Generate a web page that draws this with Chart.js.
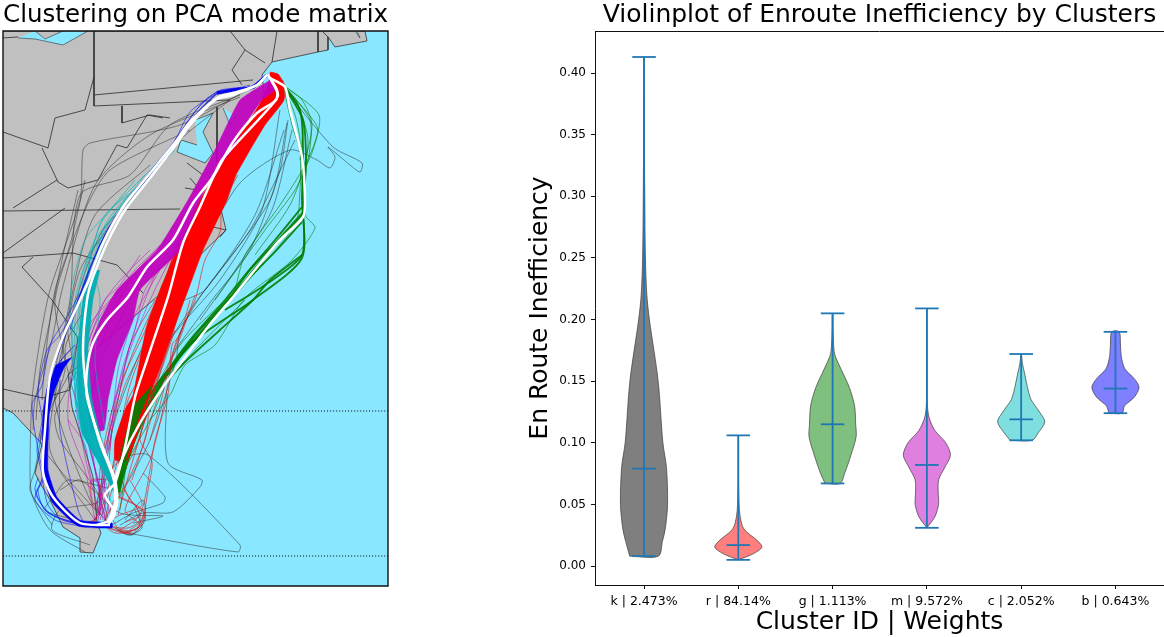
<!DOCTYPE html>
<html>
<head>
<meta charset="utf-8">
<script src="https://cdn.jsdelivr.net/npm/chart.js@4/dist/chart.umd.min.js"></script>
<style>
  body { margin: 0; background: #fff; }
  canvas { position: absolute; top: 0; }
  #mapChart { left: 0; }
  #violinChart { left: 525px; }
</style>
</head>
<body>
<canvas id="mapChart" width="400" height="590"></canvas>
<canvas id="violinChart" width="639" height="637"></canvas>
<script>
// violin panel data
const clusterLabels = ["k | 2.473%", "r | 84.14%", "g | 1.113%", "m | 9.572%", "c | 2.052%", "b | 0.643%"];
const clusterFill = ["rgba(0,0,0,0.5)", "rgba(255,0,0,0.5)", "rgba(0,128,0,0.5)", "rgba(191,0,191,0.5)", "rgba(0,191,191,0.5)", "rgba(0,0,255,0.5)"];
const yTickValues = [0, 0.05, 0.1, 0.15, 0.2, 0.25, 0.3, 0.35, 0.4];
const xTickValues = [1, 2, 3, 4, 5, 6];
const minValues = [0.008, 0.005, 0.067, 0.031, 0.102, 0.124];
const maxValues = [0.413, 0.106, 0.205, 0.209, 0.172, 0.190];
const meanValues = [0.079, 0.017, 0.115, 0.082, 0.119, 0.144];
// [value, half width] for each violin
const violinK = [[0.008,0.152],[0.02,0.195],[0.03,0.225],[0.05,0.25],[0.08,0.238],[0.1,0.2],[0.15,0.15],[0.2,0.057],[0.22,0.03],[0.25,0.015],[0.3,0.008],[0.35,0.004],[0.413,0]];
const violinR = [[0.005,0],[0.01,0.16],[0.0152,0.25],[0.02,0.21],[0.03,0.06],[0.04,0.02],[0.05,0.008],[0.07,0.002],[0.106,0]];
const violinG = [[0.067,0.08],[0.075,0.127],[0.09,0.195],[0.105,0.25],[0.115,0.245],[0.13,0.233],[0.145,0.177],[0.16,0.088],[0.17,0.03],[0.175,0.015],[0.19,0.006],[0.205,0.003]];
const violinM = [[0.031,0],[0.04,0.085],[0.05,0.124],[0.06,0.12],[0.07,0.125],[0.08,0.19],[0.09,0.25],[0.1,0.2],[0.11,0.085],[0.12,0.025],[0.13,0.006],[0.15,0.002],[0.209,0]];
const violinC = [[0.102,0.117],[0.108,0.18],[0.117,0.25],[0.125,0.195],[0.135,0.105],[0.145,0.067],[0.155,0.04],[0.165,0.012],[0.172,0.003]];
const violinB = [[0.124,0.07],[0.13,0.097],[0.137,0.2],[0.145,0.25],[0.152,0.2],[0.16,0.1],[0.17,0.062],[0.18,0.053],[0.19,0.04]];
const violins = [violinK, violinR, violinG, violinM, violinC, violinB];

// map panel data, in map units (x right, y down)
const landOutline = [[3,31],[365,31],[367,41],[335,47],[328,37],[328,50],[318,52],[272,62],[262,75],[265,100],[255,128],[240,150],[228,172],[214,180],[226,230],[190,265],[165,290],[130,320],[100,345],[80,365],[68,375],[72,407],[80,433],[93,477],[97,523],[101,533],[93,553],[80,552],[80,538],[63,527],[50,500],[40,483],[35,473],[42,444],[13,413],[3,408]];
const lakeOutline = [[18,38],[35,39],[63,45],[88,31],[63,31],[45,39],[35,31]];
const bayOutline = [[195,120],[213,113],[203,132],[213,153],[205,163],[177,152],[181,140],[197,145]];
const bay2Outline = [[223,108],[230,125],[236,116]];
const bay3Outline = [[355,31],[360,38],[357,31]];
const borders = [
  [[3,132],[48,148],[55,118],[85,110],[94,77]],
  [[42,148],[58,182],[68,188],[98,180],[117,145],[127,148],[147,115],[163,118]],
  [[13,208],[57,180]],
  [[3,211],[180,209]],
  [[3,253],[65,208]],
  [[3,258],[73,253],[117,265],[143,293]],
  [[22,267],[33,257]],
  [[22,267],[52,300],[78,338],[70,390]],
  [[94,31],[94,106],[230,100]],
  [[94,95],[253,80]],
  [[122,106],[122,123],[150,115],[170,118]],
  [[230,31],[245,50],[232,70],[242,85]],
  [[245,50],[265,63]],
  [[277,31],[272,62]],
  [[318,31],[318,52]],
  [[328,37],[322,31]],
  [[3,389],[43,398],[70,390]],
  [[187,163],[203,175]],
  [[190,178],[200,190]],
  [[185,188],[197,190]],
  [[217,107],[217,163]],
  [[3,38],[18,37]],
  [[213,227],[226,230],[220,237]]
];
const parallelRows = [411, 556];

const greyPaths = [
  [[253,87],[180,125],[90,143],[83,150],[80,200],[50,290],[40,340],[32,400],[30,470],[32,495],[50,530],[85,552]],
  [[240,95],[170,125],[130,175],[80,195],[70,300],[48,400],[35,470],[30,490],[52,525]],
  [[283,87],[333,147],[362,163],[360,172],[350,165],[328,147],[335,157],[330,168],[317,160],[290,150],[240,183],[200,250],[150,330],[115,420],[100,500]],
  [[167,393],[168,463],[202,480],[200,487],[173,512],[143,513],[120,525]],
  [[127,533],[238,552],[240,545],[148,455],[120,460],[100,490],[96,520]],
  [[143,473],[165,497],[163,503],[133,513],[112,525]],
  [[133,523],[163,516],[120,513],[80,480],[60,490]],
  [[287,123],[270,200],[200,297],[180,333],[176,360],[150,440],[118,500]],
  [[280,110],[262,210],[220,280],[170,340],[140,410]],
  [[295,140],[250,230],[190,310],[150,370]],
  [[288,120],[280,170],[250,250],[212,300],[175,350]],
  [[284,130],[255,215],[205,290],[185,300]],
  [[292,130],[272,210],[232,275],[200,320]],
  [[240,97],[150,135],[95,185],[62,290],[52,340],[35,400],[33,430]],
  [[230,100],[180,140],[130,200],[100,235],[70,320],[55,400],[90,500],[110,525]],
  [[190,130],[110,170],[85,210],[55,300],[65,370],[40,440],[60,470],[100,515]],
  [[150,165],[95,215],[75,280],[60,370],[50,450],[95,520]],
  [[85,180],[70,245],[55,290],[45,360],[42,400]],
  [[78,190],[62,260],[50,320],[40,370],[36,420]],
  [[110,225],[80,270],[68,330],[72,365],[55,400]],
  [[78,370],[55,415],[60,440],[100,500],[60,510],[52,530],[90,545]],
  [[115,490],[68,480],[55,495],[45,510],[75,520]],
  [[135,510],[142,528],[128,535],[115,528]],
  [[118,530],[132,535],[145,520],[143,500],[125,520]],
  [[90,300],[65,350],[85,430],[95,470],[108,518]],
  [[100,340],[78,365],[90,420],[115,490]]
];
const greenPaths = [
  [[283,85],[319,115],[313,150],[305,170],[302,200]],
  [[283,85],[310,120],[308,160],[295,190],[265,230],[215,300]],
  [[283,85],[305,110],[318,130],[305,165],[280,205],[245,255],[235,290]],
  [[283,85],[295,115],[300,140],[300,190],[295,225],[240,290]],
  [[283,85],[292,125],[303,165],[290,205],[255,255]],
  [[283,85],[298,105],[308,140],[302,185]],
  [[283,85],[302,100],[312,125],[303,170]],
  [[283,85],[296,100],[303,125],[300,160]],
  [[302,175],[305,215],[315,228],[290,262],[245,298],[215,345],[185,365],[170,395],[150,420]],
  [[230,296],[175,365],[150,420],[122,470]],
  [[245,300],[200,345],[165,385],[135,440],[120,490]],
  [[225,300],[180,345],[150,400],[130,445],[118,490]],
  [[180,365],[140,400],[132,430],[125,470],[118,500]],
  [[165,385],[135,420],[125,460],[116,500]],
  [[160,385],[138,415],[128,455],[120,510]],
  [[150,400],[132,425],[122,470],[115,510]]
];
// the tight bundles that read as one heavy stroke
const greenHeavy = [
  [[283,85],[300,110],[303,150],[302,200],[302,258],[253,300],[190,345],[140,420],[118,480]],
  [[283,85],[303,120],[306,165],[303,205],[302,255],[265,285],[225,310]],
  [[302,207],[275,240],[245,275],[225,300],[190,340],[165,375],[140,420],[122,470]],
  [[303,212],[278,240],[250,270],[230,297],[200,330],[172,365],[150,395],[128,445],[118,490]],
  [[303,214],[280,240],[255,268],[235,293],[205,328],[180,355],[155,395],[133,445],[120,485]],
  [[302,222],[272,255],[245,282],[228,300],[195,340],[160,380],[135,425],[122,460],[114,490]],
  [[302,255],[270,280],[253,300],[220,330],[185,362],[160,390],[140,425],[125,470]]
];
const greenWedge = [[152,385],[138,420],[126,460],[120,492],[116,492],[122,450],[134,405]];
const redBand = [[270,72],[278,74],[283,82],[284,100],[265,125],[250,150],[236,175],[227,200],[215,225],[203,250],[190,285],[177,320],[163,360],[150,395],[135,440],[127,460],[115,460],[115,440],[125,410],[133,395],[140,360],[147,325],[160,290],[177,250],[200,200],[230,150],[247,125],[262,100],[268,85]];
const redPaths = [
  [[240,135],[205,195],[185,225],[172,260],[150,320],[120,385],[105,440],[100,500],[95,523]],
  [[225,165],[190,215],[178,240],[165,280],[130,360],[112,420],[104,470],[95,510]],
  [[238,175],[222,205],[220,232],[205,260],[195,300],[175,345],[165,400],[150,460],[125,510],[140,525],[125,533],[108,528]],
  [[190,300],[180,335],[172,345],[168,395],[155,440],[150,470],[140,515],[120,530]],
  [[155,300],[130,345],[118,400],[100,470],[100,515]],
  [[180,310],[145,420],[140,440],[152,462],[148,490],[142,520],[130,530]],
  [[110,480],[92,480],[92,500],[100,515],[88,523]],
  [[130,480],[142,505],[120,515],[105,525],[115,533],[132,532]],
  [[160,330],[135,400],[118,450],[125,490],[140,515],[125,522]],
  [[260,95],[282,80],[285,95],[270,115]],
  [[175,330],[158,380],[142,430],[130,470],[118,515]],
  [[170,340],[150,400],[135,450],[112,490],[105,522]],
  [[145,370],[128,400],[120,450],[108,495],[100,520]],
  [[150,400],[145,440],[128,480],[110,510],[102,525]],
  [[125,430],[112,470],[105,500],[92,525]],
  [[118,497],[143,510],[142,525],[125,532],[110,528]],
  [[115,495],[135,505],[140,520],[128,528],[108,526]],
  [[125,490],[130,500],[145,515],[132,534],[118,530]],
  [[120,490],[110,510],[118,528],[135,530],[145,512]],
  [[105,480],[102,505],[110,525],[130,533]],
  [[195,295],[183,330],[170,365],[160,405],[150,440]],
  [[188,315],[172,355],[157,400],[143,445],[132,480]],
  [[150,330],[130,385],[122,420],[112,470]],
  [[142,350],[125,385],[112,430],[108,480]]
];
const magentaBand = [[270,80],[275,90],[262,100],[248,120],[232,150],[212,175],[200,200],[180,250],[140,290],[133,320],[117,360],[108,400],[104,430],[92,430],[86,390],[88,360],[92,340],[100,320],[117,290],[157,250],[188,200],[215,150],[227,125],[240,100],[262,85]];
const magentaPaths = [
  [[140,255],[120,285],[105,300],[90,330],[75,390],[78,420],[88,470],[100,515]],
  [[170,240],[145,275],[125,310],[105,350],[90,400],[95,470],[105,520]],
  [[130,280],[110,300],[85,330],[75,350],[68,420],[85,470],[95,520]],
  [[180,240],[150,300],[130,350],[112,410],[105,470],[105,520]],
  [[68,420],[85,445],[92,480],[102,480],[100,515]],
  [[160,270],[135,315],[118,370],[110,450]],
  [[167,240],[135,270],[113,297],[95,325],[80,370],[80,420]],
  [[150,250],[125,275],[105,300],[88,345],[78,395]],
  [[160,245],[130,280],[112,315],[100,350],[88,420]],
  [[175,250],[145,290],[135,330],[122,370],[112,420],[100,470]],
  [[190,225],[160,265],[145,300],[130,345],[118,400],[108,450]],
  [[80,390],[85,430],[98,480],[103,520]],
  [[86,420],[92,455],[100,495],[98,522]],
  [[100,430],[102,470],[108,505],[110,522]],
  [[90,482],[98,482],[100,510],[92,523]]
];
const tealBand = [[100,270],[93,300],[88,350],[92,400],[100,433],[108,460],[117,500],[112,488],[97,460],[82,433],[78,400],[77,360],[83,300],[95,270]];
const tealPaths = [
  [[190,125],[155,165],[135,185],[115,205],[100,225],[90,260],[82,310],[76,370],[82,430],[110,480]],
  [[175,150],[140,185],[105,215],[92,250],[85,300],[80,380],[100,450]],
  [[160,165],[125,200],[100,240],[80,300],[75,390],[85,450]],
  [[135,180],[110,210],[85,240],[70,300],[78,400]],
  [[130,200],[100,255],[92,285],[90,330]],
  [[145,175],[118,210],[100,235],[85,270],[78,330]],
  [[122,205],[95,240],[82,275],[75,320],[74,380]],
  [[112,225],[88,258],[75,300],[72,350],[78,420]],
  [[128,195],[105,225],[95,270],[100,300],[95,360],[105,430]],
  [[105,250],[85,285],[90,320],[85,360]],
  [[80,400],[90,440],[105,480],[113,510]]
];
const blueBand = [[72,357],[64,368],[54,392],[49,415],[48,470],[57,497],[80,520],[112,523],[112,528],[78,526],[52,502],[43,472],[43,415],[47,390],[56,365]];
const bluePaths = [
  [[265,78],[250,87],[235,88],[218,91],[198,108],[175,140]],
  [[255,88],[240,91],[222,90],[205,100],[185,125]],
  [[250,85],[215,95],[190,112],[175,140],[145,178],[110,225],[85,280],[70,330]],
  [[90,275],[65,320],[50,345],[42,385],[32,405],[40,460],[45,478],[38,490],[45,510],[70,522],[85,525]],
  [[80,300],[60,335],[47,350],[38,390],[42,420],[37,450],[42,478],[35,500],[55,520],[80,526]],
  [[60,380],[60,430],[78,510],[85,525]],
  [[42,478],[48,505],[62,520],[95,526]],
  [[75,345],[58,365],[50,400],[48,440]],
  [[70,350],[52,372],[44,405],[42,440]],
  [[42,480],[36,495],[52,515],[82,524]],
  [[38,478],[35,490],[48,513],[78,524]]
];
const blueHeavy = [
  [[267,75],[253,87],[233,90],[217,93]]
];
const blueMedium = [
  [[217,93],[200,110],[177,140],[150,175],[123,207],[100,245],[82,290],[65,335],[50,377],[45,430]]
];
const centroidPaths = [
  [[267,75],[257,85],[233,93],[217,98],[190,122],[177,140],[147,177],[123,207],[103,243],[90,277],[80,300],[63,337],[50,377],[45,430],[43,472],[53,497],[80,523],[110,525]],
  [[267,75],[257,85],[233,95],[215,100],[190,125],[178,142],[150,178],[125,210],[107,243],[93,277],[87,300],[83,350],[87,393],[100,443],[113,477],[117,503],[110,520],[97,525]],
  [[268,75],[277,90],[276,100],[257,113],[233,142],[213,177],[193,203],[173,240],[147,267],[128,297],[107,320],[93,343],[87,370],[87,397],[100,440],[115,480],[117,503],[110,520]],
  [[270,78],[278,95],[270,107],[233,147],[220,163],[200,207],[183,243],[168,297],[147,360],[135,397],[125,447],[115,483],[105,495],[115,513],[108,525]],
  [[270,78],[285,87],[290,110],[302,157],[305,200],[303,217],[277,243],[233,297],[211,323],[183,360],[163,387],[140,423],[123,457],[115,482],[115,503],[108,522]]
];

const toPoints = list => list.map(p => ({ x: p[0], y: p[1] }));

function mapLine(list, color, width) {
  return { data: toPoints(list), showLine: true, borderColor: color, borderWidth: width, pointRadius: 0, fill: false, tension: 0.25 };
}
function mapArea(list, fillColor, edgeColor, width) {
  return { data: toPoints(list), showLine: true, borderColor: edgeColor, borderWidth: width, backgroundColor: fillColor, pointRadius: 0, fill: "shape", tension: 0.15 };
}

const mapSets = [];
const flat = d => ({ ...d, tension: 0 });
mapSets.push(flat(mapArea(landOutline, "#c0c0c0", "#333", 0.8)));
mapSets.push(flat(mapArea(lakeOutline, "#89e8ff", "#333", 0.6)));
mapSets.push(flat(mapArea(bayOutline, "#89e8ff", "#333", 0.7)));
mapSets.push(flat(mapArea(bay2Outline, "#89e8ff", "#333", 0.6)));
mapSets.push(flat(mapArea(bay3Outline, "#89e8ff", "#333", 0.6)));
borders.forEach(b => mapSets.push(flat(mapLine(b, "#2a2a2a", 0.8))));
parallelRows.forEach(row => mapSets.push({ ...mapLine([[3, row], [388, row]], "#000", 1), borderDash: [1, 2] }));
greyPaths.forEach(p => mapSets.push(mapLine(p, "rgba(40,40,40,0.5)", 1)));
greenPaths.forEach(p => mapSets.push(mapLine(p, "rgba(0,125,0,0.6)", 1)));
greenHeavy.forEach(p => mapSets.push(mapLine(p, "rgba(0,125,0,0.9)", 1.8)));
mapSets.push(mapArea(redBand, "#ff0000", "rgba(255,0,0,0.6)", 1));
redPaths.forEach(p => mapSets.push(mapLine(p, "rgba(215,20,20,0.6)", 1)));
mapSets.push(mapArea(greenWedge, "rgba(0,125,0,0.9)", "rgba(0,125,0,0.6)", 1));
mapSets.push(mapArea(magentaBand, "rgba(191,0,191,0.92)", "rgba(191,0,191,0.5)", 0.8));
magentaPaths.forEach(p => mapSets.push(mapLine(p, "rgba(191,0,191,0.5)", 1)));
tealPaths.forEach(p => mapSets.push(mapLine(p, "rgba(0,180,185,0.6)", 1)));
mapSets.push(mapArea(tealBand, "rgba(0,175,180,0.95)", "rgba(0,180,185,0.5)", 0.8));
bluePaths.forEach(p => mapSets.push(mapLine(p, "rgba(20,20,235,0.6)", 1)));
blueMedium.forEach(p => mapSets.push(mapLine(p, "rgba(10,30,220,0.8)", 1.6)));
blueHeavy.forEach(p => mapSets.push(mapLine(p, "rgba(0,0,238,0.95)", 3.5)));
mapSets.push(mapArea(blueBand, "#0000ee", "rgba(0,0,238,0.6)", 0.8));
centroidPaths.forEach(p => mapSets.push(mapLine(p, "#fff", 2.5)));
// chart.js paints low order on top, so count down
mapSets.forEach((d, i) => { d.order = mapSets.length - i; });

const frame = {
  id: "frame",
  afterDraw(chart) {
    const { ctx, chartArea: a } = chart;
    ctx.save();
    ctx.strokeStyle = "#111";
    ctx.lineWidth = chart.canvas.id === "mapChart" ? 1.4 : 1;
    ctx.beginPath();
    if (chart.canvas.id === "mapChart") {
      ctx.rect(a.left, a.top, a.right - a.left, a.bottom - a.top);
    } else {
      ctx.moveTo(a.left, a.top + 0.5);
      ctx.lineTo(a.right, a.top + 0.5);
    }
    ctx.stroke();
    ctx.restore();
  }
};
const seaBackground = {
  id: "seaBackground",
  beforeDraw(chart) {
    const { ctx, chartArea: a } = chart;
    ctx.fillStyle = "#89e8ff";
    ctx.fillRect(a.left, a.top, a.right - a.left, a.bottom - a.top);
  }
};

new Chart(document.getElementById("mapChart"), {
  type: "scatter",
  data: { datasets: mapSets },
  plugins: [seaBackground, frame],
  options: {
    responsive: false,
    animation: false,
    layout: { padding: { left: 3, right: 12, bottom: 4 } },
    scales: {
      x: { display: false, min: 3, max: 388 },
      y: { display: false, min: 31, max: 586, reverse: true }
    },
    plugins: {
      legend: { display: false },
      tooltip: { enabled: false },
      title: {
        display: true,
        fullSize: false,
        text: "Clustering on PCA mode matrix",
        color: "#000",
        font: { family: "DejaVu Sans", size: 25.4, weight: "normal" },
        padding: { top: 0, bottom: 0.5 }
      }
    }
  }
});

// violin bodies and the min / max / mean bars
const violinSets = [];
violins.forEach((profile, i) => {
  const pos = xTickValues[i];
  const left = profile.map(p => ({ x: pos - p[1], y: p[0] }));
  const right = profile.slice().reverse().map(p => ({ x: pos + p[1], y: p[0] }));
  violinSets.push({
    data: left.concat(right, [left[0]]),
    showLine: true,
    fill: "shape",
    backgroundColor: clusterFill[i],
    borderColor: "rgba(50,50,50,0.65)",
    borderWidth: 1,
    pointRadius: 0,
    tension: 0.3,
    order: 2
  });
  const bar = (pts, w) => violinSets.push({ data: pts, showLine: true, borderColor: "#1f77b4", borderWidth: w, pointRadius: 0, fill: false, order: 1 });
  bar([{ x: pos, y: minValues[i] }, { x: pos, y: maxValues[i] }], 1.8);
  [minValues[i], maxValues[i], meanValues[i]].forEach(v => bar([{ x: pos - 0.125, y: v }, { x: pos + 0.125, y: v }], 1.8));
});

new Chart(document.getElementById("violinChart"), {
  type: "scatter",
  data: { datasets: violinSets },
  plugins: [frame],
  options: {
    responsive: false,
    animation: false,
    layout: { padding: 0 },
    scales: {
      x: {
        min: 0.48,
        max: 6.515,
        border: { color: "#111" },
        grid: { drawOnChartArea: false, drawTicks: true, tickLength: 4, color: "#111" },
        afterBuildTicks: axis => { axis.ticks = xTickValues.map(v => ({ value: v })); },
        afterFit: axis => { axis.height = 52; },
        ticks: {
          autoSkip: false,
          maxRotation: 0,
          padding: 5,
          color: "#000",
          font: { family: "DejaVu Sans", size: 12.5 },
          callback: v => clusterLabels[v - 1]
        },
        title: { display: true, text: "Cluster ID | Weights", color: "#000", padding: 0, font: { family: "DejaVu Sans", size: 25 } }
      },
      y: {
        min: -0.0154,
        max: 0.4341,
        border: { color: "#111" },
        grid: { drawOnChartArea: false, drawTicks: true, tickLength: 4, color: "#111" },
        afterBuildTicks: axis => { axis.ticks = yTickValues.map(v => ({ value: v })); },
        afterFit: axis => { axis.width = 70; },
        ticks: {
          padding: 5,
          color: "#000",
          font: { family: "DejaVu Sans", size: 12 },
          callback: v => v.toFixed(2)
        },
        title: { display: true, text: "En Route Inefficiency", color: "#000", padding: 0, font: { family: "DejaVu Sans", size: 25 } }
      }
    },
    plugins: {
      legend: { display: false },
      tooltip: { enabled: false },
      title: {
        display: true,
        fullSize: false,
        text: "Violinplot of Enroute Inefficiency by Clusters",
        color: "#000",
        font: { family: "DejaVu Sans", size: 25, weight: "normal" },
        padding: { top: 0, bottom: 1 }
      }
    }
  }
});
</script>
</body>
</html>
